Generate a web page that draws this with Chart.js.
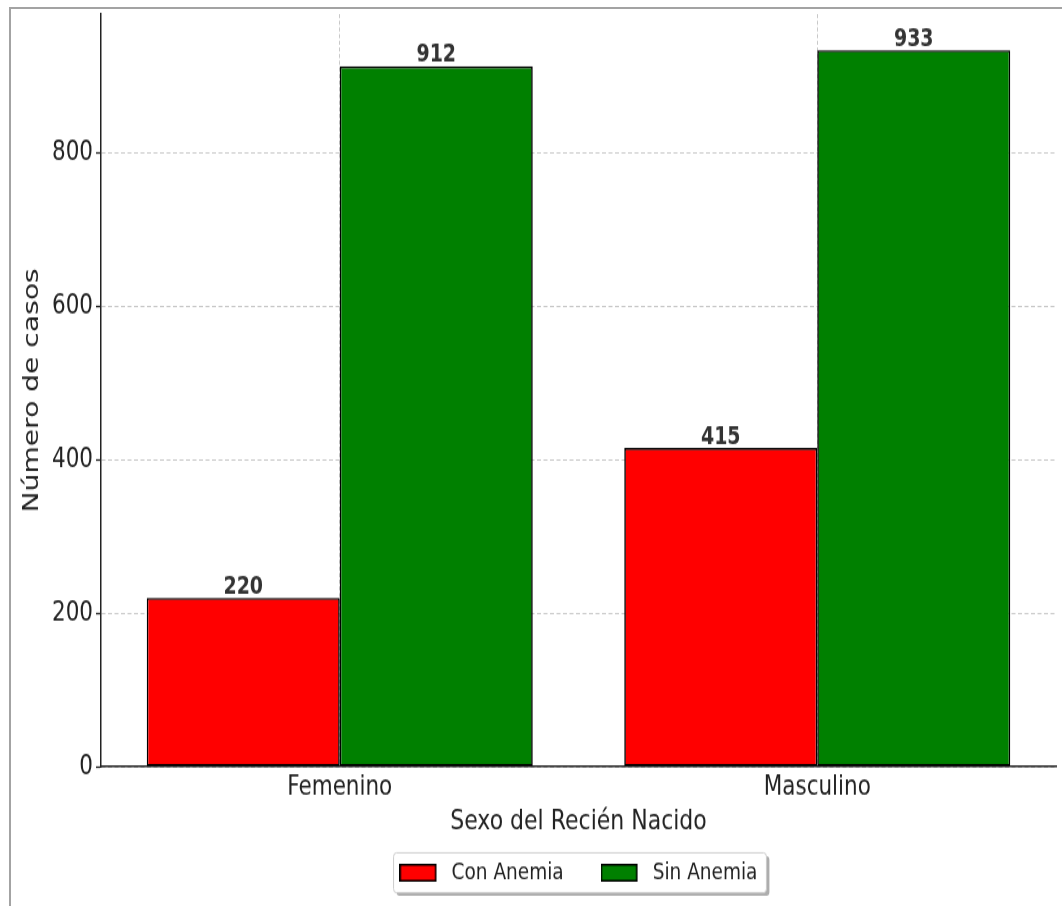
<!DOCTYPE html>
<html>
<head>
<meta charset="utf-8">
<script src="https://cdn.jsdelivr.net/npm/chart.js@4.4.1/dist/chart.umd.min.js"></script>
<style>
  html, body { margin: 0; padding: 0; background: #fff; overflow: hidden; width: 1062px; height: 906px; }
  #frame { position: absolute; left: 9px; top: 7px; width: 1053px; height: 899px;
           border-left: 2px solid #a3a3a3; border-top: 2px solid #a3a3a3; box-sizing: border-box; }
  #wrap { position: absolute; left: 0; top: 0; width: 1062px; height: 708px;
          transform: scaleY(1.2797); transform-origin: 0 0; }
</style>
</head>
<body>
<div id="frame"></div>
<div id="wrap"><canvas id="c"></canvas></div>
<script>
// Casos por sexo del recién nacido
const categories = ['Femenino', 'Masculino'];
const conAnemia = [220, 415];
const sinAnemia = [912, 933];
const seriesNames = ['Con Anemia', 'Sin Anemia'];
const seriesColors = ['#ff0000', '#008000'];
const yTicks = [0, 200, 400, 600, 800];

const FONT = '"DejaVu Sans", "Liberation Sans", sans-serif';
const INK = '#222';

// Legend swatch: filled rectangle with a little blank room on its right
function swatch(color) {
  const c = document.createElement('canvas');
  c.width = 43; c.height = 14;
  const g = c.getContext('2d');
  g.fillStyle = color;
  g.fillRect(1, 1, 35, 12);
  g.strokeStyle = '#000';
  g.lineWidth = 1.5;
  g.strokeRect(0.75, 0.75, 35.5, 12.5);
  return c;
}

// Bold value above every bar
const valueLabels = {
  id: 'valueLabels',
  afterDatasetsDraw(chart) {
    const ctx = chart.ctx;
    ctx.save();
    ctx.font = 'bold 19px ' + FONT;
    ctx.fillStyle = '#333';
    ctx.textAlign = 'center';
    ctx.textBaseline = 'alphabetic';
    chart.data.datasets.forEach((ds, i) => {
      chart.getDatasetMeta(i).data.forEach((bar, j) => {
        ctx.fillText(String(ds.data[j]), bar.x, bar.y - 3.5);
      });
    });
    ctx.restore();
  }
};

// Rounded box with a soft drop shadow behind the legend
const legendFrame = {
  id: 'legendFrame',
  beforeDraw(chart) {
    const hb = chart.legend && chart.legend.legendHitBoxes;
    if (!hb || !hb.length) return;
    const first = hb[0], last = hb[hb.length - 1];
    const cy = first.top + first.height / 2;
    const x0 = first.left - 6, x1 = last.left + last.width + 9;
    const y0 = cy - 15.6, y1 = cy + 15.6;
    const ctx = chart.ctx;
    const rr = (x, y, w, h, r) => {
      ctx.beginPath();
      ctx.roundRect(x, y, w, h, r);
    };
    ctx.save();
    ctx.fillStyle = 'rgba(0,0,0,0.32)';
    rr(x0 + 3, y0 + 2.5, x1 - x0, y1 - y0, 3);
    ctx.fill();
    ctx.fillStyle = '#fff';
    ctx.strokeStyle = '#cccccc';
    ctx.lineWidth = 1;
    rr(x0, y0, x1 - x0, y1 - y0, 3);
    ctx.fill();
    ctx.stroke();
    ctx.restore();
  }
};

const swatches = seriesColors.map(swatch);

new Chart(document.getElementById('c'), {
  type: 'bar',
  data: {
    labels: categories,
    datasets: [
      { label: seriesNames[0], data: conAnemia, backgroundColor: seriesColors[0],
        borderColor: '#000', borderWidth: 1.6, borderSkipped: false },
      { label: seriesNames[1], data: sinAnemia, backgroundColor: seriesColors[1],
        borderColor: '#000', borderWidth: 1.6, borderSkipped: false }
    ]
  },
  options: {
    responsive: true,
    maintainAspectRatio: false,
    devicePixelRatio: 1,
    animation: false,
    datasets: { bar: { categoryPercentage: 0.8084, barPercentage: 1 } },
    layout: { padding: { top: 11, right: 6, bottom: 6.75, left: 0 } },
    scales: {
      x: {
        type: 'category',
        offset: true,
        z: 1,
        grid: { offset: false, color: '#c8c8c8', lineWidth: 1, drawTicks: false },
        border: { display: true, color: INK, width: 1.5, dash: [3.2, 2] },
        ticks: { padding: 3, color: INK, font: { family: FONT, size: 21.5 } },
        title: { display: true, text: 'Sexo del Recién Nacido', color: INK,
                 font: { family: FONT, size: 22 }, padding: { top: 0, bottom: -19.45 } },
        afterFit(scale) { scale.height = 36.55; scale.paddingLeft = 0; scale.paddingRight = 0; }
      },
      y: {
        min: 0,
        max: 980,
        z: 1,
        afterBuildTicks(scale) { scale.ticks = yTicks.map(v => ({ value: v })); },
        grid: { color: '#c8c8c8', lineWidth: 1, drawTicks: true, tickLength: 5,
                tickColor: INK, tickWidth: 1.3 },
        border: { display: true, color: INK, width: 1.5, dash: [4, 2.5] },
        ticks: { padding: 3, color: INK, font: { family: FONT, size: 21.5 } },
        title: { display: true, text: 'Número de casos', color: INK,
                 font: { family: FONT, size: 22 }, padding: { top: 18.8, bottom: 0 } },
        afterFit(scale) { scale.width = 101; scale.paddingTop = 0; scale.paddingBottom = 0; }
      }
    },
    plugins: {
      legend: {
        position: 'bottom',
        fullSize: false,
        labels: {
          usePointStyle: true,
          pointStyleWidth: 42.75,
          boxHeight: 13,
          padding: 37,
          color: INK,
          font: { family: FONT, size: 18.5 },
          generateLabels(chart) {
            return Chart.defaults.plugins.legend.labels.generateLabels(chart)
              .map((item, i) => Object.assign(item, { pointStyle: swatches[i] }));
          }
        }
      },
      tooltip: { enabled: false }
    }
  },
  plugins: [legendFrame, valueLabels]
});
</script>
</body>
</html>
